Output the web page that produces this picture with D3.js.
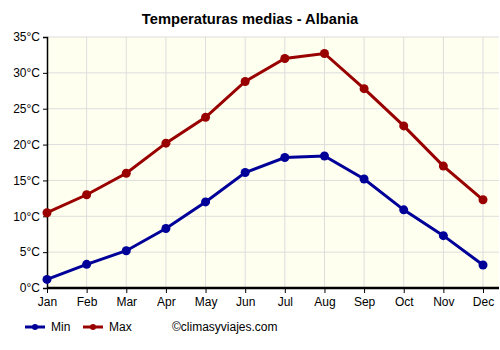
<!DOCTYPE html>
<html>
<head>
<meta charset="utf-8">
<script src="https://cdn.jsdelivr.net/npm/d3@7"></script>
<style>
  body { margin: 0; background: #fff; }
  text { font-family: "Liberation Sans", Arial, sans-serif; }
</style>
</head>
<body>
<script>
const months = ['Jan', 'Feb', 'Mar', 'Apr', 'May', 'Jun', 'Jul', 'Aug', 'Sep', 'Oct', 'Nov', 'Dec'];
const minTemp = [1.2, 3.3, 5.2, 8.3, 12.0, 16.1, 18.2, 18.4, 15.2, 10.9, 7.3, 3.2];
const maxTemp = [10.5, 13.0, 16.0, 20.2, 23.8, 28.8, 32.0, 32.7, 27.8, 22.6, 17.0, 12.3];
const yTicks = [0, 5, 10, 15, 20, 25, 30, 35];

const w = 500, h = 350;
const pLeft = 47, pRight = 499, pTop = 37, pBottom = 288;
const minColor = '#000099', maxColor = '#990000';

const svg = d3.select('body').append('svg')
  .attr('width', w)
  .attr('height', h);

const x = d3.scalePoint().domain(months).range([pLeft, 483]);
const y = d3.scaleLinear().domain([0, 35]).range([pBottom, pTop]);

svg.append('rect')
  .attr('x', pLeft).attr('y', pTop)
  .attr('width', pRight - pLeft).attr('height', pBottom - pTop)
  .attr('fill', '#fffff0');

// grid
svg.append('g').selectAll('line')
  .data(yTicks.slice(1))
  .enter().append('line')
  .attr('x1', pLeft).attr('x2', pRight)
  .attr('y1', d => y(d)).attr('y2', d => y(d))
  .attr('stroke', '#dddddd');
svg.append('g').selectAll('line')
  .data(months.slice(1))
  .enter().append('line')
  .attr('x1', d => x(d)).attr('x2', d => x(d))
  .attr('y1', pTop).attr('y2', pBottom)
  .attr('stroke', '#dddddd');

// axes
const yAxis = d3.axisLeft(y).tickValues(yTicks).tickSize(4).tickFormat(d => d + '°C');
const gy = svg.append('g').attr('transform', `translate(${pLeft},0)`).call(yAxis);
gy.select('.domain').attr('stroke', '#000').attr('stroke-width', 1.5);
gy.selectAll('text').attr('font-size', 12).attr('fill', '#000')
  .attr('font-family', '"Liberation Sans", Arial, sans-serif');

const xAxis = d3.axisBottom(x).tickSize(5).tickPadding(4);
const gx = svg.append('g').attr('transform', `translate(0,${pBottom})`).call(xAxis);
gx.select('.domain').remove();
gx.selectAll('text').attr('font-size', 12).attr('fill', '#000')
  .attr('font-family', '"Liberation Sans", Arial, sans-serif');
svg.append('line')
  .attr('x1', pLeft).attr('x2', pRight)
  .attr('y1', pBottom).attr('y2', pBottom)
  .attr('stroke', '#000').attr('stroke-width', 2.5);

// series
const line = d3.line().x((d, i) => x(months[i])).y(d => y(d));
[[minTemp, minColor], [maxTemp, maxColor]].forEach(([vals, col]) => {
  svg.append('path')
    .datum(vals)
    .attr('d', line)
    .attr('fill', 'none')
    .attr('stroke', col)
    .attr('stroke-width', 3);
  svg.append('g').selectAll('circle')
    .data(vals)
    .enter().append('circle')
    .attr('cx', (d, i) => x(months[i]))
    .attr('cy', d => y(d))
    .attr('r', 4.5)
    .attr('fill', col);
});

// title
svg.append('text')
  .attr('x', 250).attr('y', 24)
  .attr('text-anchor', 'middle')
  .attr('font-size', 14.7).attr('font-weight', 'bold')
  .text('Temperaturas medias - Albania');

// legend
const legend = [['Min', minColor, 25], ['Max', maxColor, 83]];
legend.forEach(([name, col, lx]) => {
  svg.append('line')
    .attr('x1', lx).attr('x2', lx + 20)
    .attr('y1', 327).attr('y2', 327)
    .attr('stroke', col).attr('stroke-width', 3);
  svg.append('circle')
    .attr('cx', lx + 10).attr('cy', 327).attr('r', 3)
    .attr('fill', col);
  svg.append('text')
    .attr('x', lx + 26).attr('y', 331)
    .attr('font-size', 12)
    .text(name);
});
svg.append('text')
  .attr('x', 172).attr('y', 331)
  .attr('font-size', 12)
  .text('©climasyviajes.com');
</script>
</body>
</html>
